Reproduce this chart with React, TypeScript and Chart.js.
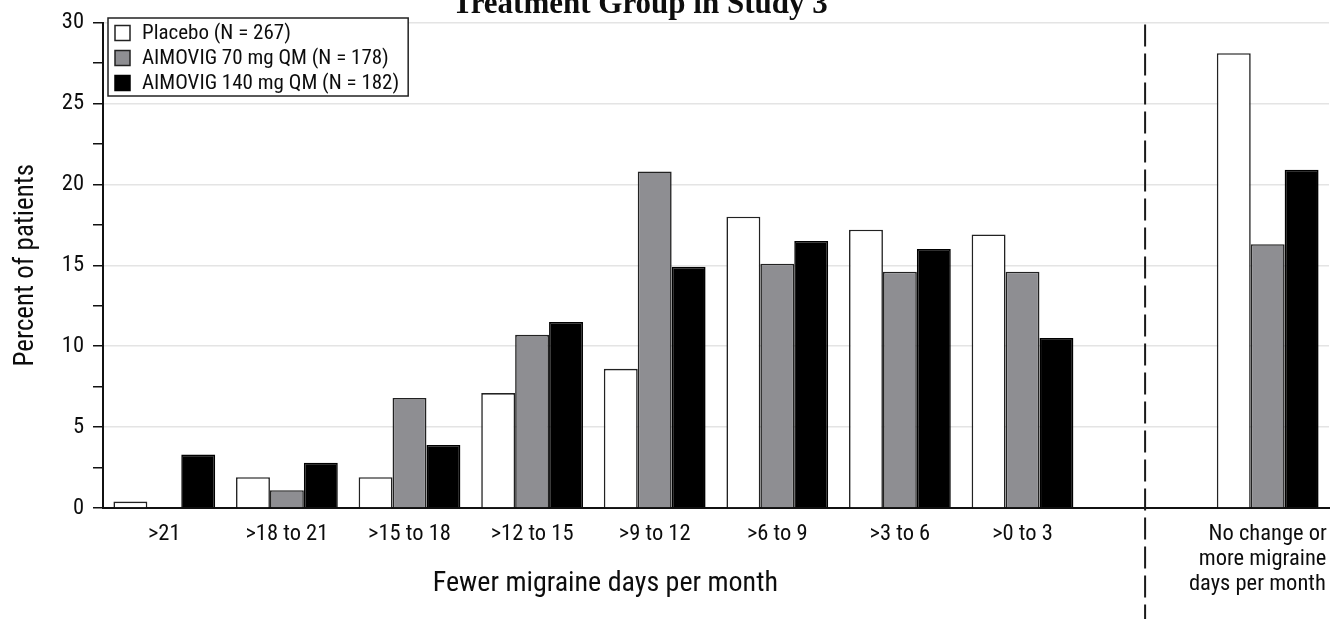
import { useEffect, useRef } from 'react';
import { Chart, registerables } from 'chart.js';

Chart.register(...registerables);

const chartTitle = 'Treatment Group in Study 3';
const xTitle = 'Fewer migraine days per month';
const yTitle = 'Percent of patients';

const categories: (string | string[])[] = [
  '>21',
  '>18 to 21',
  '>15 to 18',
  '>12 to 15',
  '>9 to 12',
  '>6 to 9',
  '>3 to 6',
  '>0 to 3',
  '',
  ['No change or', 'more migraine', 'days per month'],
];

const seriesLabels = ['Placebo (N = 267)', 'AIMOVIG 70 mg QM (N = 178)', 'AIMOVIG 140 mg QM (N = 182)'];
const placebo = [0.4, 1.9, 1.9, 7.1, 8.6, 18.0, 17.2, 16.9, null, 28.1];
const aimovig70 = [0, 1.1, 6.8, 10.7, 20.8, 15.1, 14.6, 14.6, null, 16.3];
const aimovig140 = [3.3, 2.8, 3.9, 11.5, 14.9, 16.5, 16.0, 10.5, null, 20.9];

const yMin = 0;
const yMax = 30;
const yStep = 2.5;
const yLabelEvery = 5;
const dividerIndex = 8;
const lastLeftIndex = 7;

const FONT = "'Roboto Condensed', 'Liberation Sans Narrow', 'DejaVu Sans Condensed', sans-serif";
const X_TICK_SIZE = 22.5;
const LEGEND_SIZE = 21;
const fills = ['#ffffff', '#8e8e92', '#000000'];
const borders = ['#222222', '#222222', '#000000'];
const TEXT = '#0d0d0d';

const measureCtx = typeof document !== 'undefined' ? document.createElement('canvas').getContext('2d') : null;

function rightAlignedLines(lines: string[], size: number, room: number): string[] {
  if (!measureCtx) return lines;
  measureCtx.font = `${size}px ${FONT}`;
  const widths = lines.map((l) => measureCtx.measureText(l).width);
  const maxW = Math.max(...widths);
  const sp = measureCtx.measureText(' ').width || 1;
  const r = Math.min(room, maxW / 2);
  return lines.map((l, i) => l + ' '.repeat(Math.max(0, Math.round((widths[i] - 2 * r) / sp))));
}

const decorPlugin = {
  id: 'decor',
  afterDatasetsDraw(chart: any) {
    const { ctx, chartArea, scales } = chart;
    const x = scales.x;
    ctx.save();
    // dashed divider
    const dx = x.getPixelForValue(dividerIndex);
    ctx.strokeStyle = '#1a1a1a';
    ctx.lineWidth = 2;
    ctx.setLineDash([22, 7]);
    ctx.beginPath();
    ctx.moveTo(dx, chartArea.top + 2);
    ctx.lineTo(dx, chart.height);
    ctx.stroke();
    ctx.setLineDash([]);

    // x title centred over the left group of categories
    const cx = (x.getPixelForValue(0) + x.getPixelForValue(lastLeftIndex)) / 2 + 12;
    ctx.fillStyle = TEXT;
    ctx.font = `28px ${FONT}`;
    ctx.textAlign = 'center';
    ctx.textBaseline = 'middle';
    ctx.fillText(xTitle, cx, 584);

    // chart title (clipped at the top of the picture)
    ctx.font = "bold 31px 'Liberation Serif', 'Times New Roman', serif";
    ctx.textBaseline = 'alphabetic';
    ctx.fillText(chartTitle, 640, 12.5);

    // legend box
    ctx.font = `${LEGEND_SIZE}px ${FONT}`;
    const textX = 142;
    let maxW = 0;
    chart.data.datasets.forEach((d: any) => {
      maxW = Math.max(maxW, ctx.measureText(d.label).width);
    });
    const boxL = 108;
    const boxT = 18;
    const boxR = textX + maxW + 9;
    const boxB = 96;
    ctx.fillStyle = '#ffffff';
    ctx.fillRect(boxL, boxT, boxR - boxL, boxB - boxT);
    ctx.strokeStyle = '#222';
    ctx.lineWidth = 1.5;
    ctx.strokeRect(boxL, boxT, boxR - boxL, boxB - boxT);
    chart.data.datasets.forEach((d: any, i: number) => {
      const cy = 33 + i * 25;
      ctx.fillStyle = d.backgroundColor;
      ctx.fillRect(115, cy - 7.5, 15, 15);
      ctx.strokeStyle = d.borderColor;
      ctx.lineWidth = 1.5;
      ctx.strokeRect(115, cy - 7.5, 15, 15);
      ctx.fillStyle = TEXT;
      ctx.textAlign = 'left';
      ctx.textBaseline = 'middle';
      ctx.fillText(d.label, textX, cy + 1);
    });
    ctx.restore();
  },
};

export default function App() {
  const ref = useRef<HTMLCanvasElement>(null);
  useEffect(() => {
    if (!ref.current) return;
    const series = [placebo, aimovig70, aimovig140];
    const chart = new Chart(ref.current, {
      type: 'bar',
      data: {
        labels: categories,
        datasets: series.map((vals, i) => ({
          label: seriesLabels[i],
          data: vals,
          backgroundColor: fills[i],
          borderColor: borders[i],
          borderWidth: 1.6,
          barPercentage: 1.0,
          categoryPercentage: 0.83,
        })),
      },
      options: {
        responsive: false,
        animation: false,
        devicePixelRatio: 1,
        layout: { autoPadding: false, padding: { top: 19, right: 2, left: 0, bottom: 0 } },
        plugins: {
          legend: { display: false },
          title: { display: false },
          tooltip: { enabled: false },
        },
        scales: {
          x: {
            afterFit: (s: any) => {
              s.height = 111;
              s.paddingLeft = 0;
              s.paddingRight = 0;
            },
            grid: { display: true, drawOnChartArea: false, drawTicks: false },
            border: { display: true, color: '#111', width: 2 },
            ticks: {
              padding: 14,
              color: TEXT,
              maxRotation: 0,
              autoSkip: false,
              font: { family: FONT, size: X_TICK_SIZE, lineHeight: 1.11 },
              callback: (_v: any, index: number) => {
                const lab = categories[index];
                return Array.isArray(lab) ? rightAlignedLines(lab, X_TICK_SIZE, 59) : lab;
              },
            },
          },
          y: {
            min: yMin,
            max: yMax,
            afterFit: (s: any) => {
              s.width = 103;
            },
            border: { display: true, color: '#111', width: 2 },
            grid: {
              color: (c: any) =>
                c.tick && c.tick.value > 0 && c.tick.value % yLabelEvery === 0 ? '#e4e4e4' : 'rgba(0,0,0,0)',
              lineWidth: 1.5,
              tickColor: '#111',
              tickLength: 10,
              tickWidth: 1.5,
            },
            ticks: {
              stepSize: yStep,
              padding: 9,
              color: TEXT,
              font: { family: FONT, size: 22.5 },
              callback: (v: any) => (Number(v) % yLabelEvery === 0 ? String(v) : ''),
            },
            title: {
              display: true,
              text: yTitle,
              color: TEXT,
              font: { family: FONT, size: 27 },
              padding: { top: 10, bottom: 0 },
            },
          },
        },
      },
      plugins: [decorPlugin],
    });
    return () => chart.destroy();
  }, []);
  return (
    <div style={{ position: 'fixed', left: 0, top: 0, width: 1331, height: 619, background: '#fff' }}>
      <canvas ref={ref} width={1331} height={619} style={{ display: 'block' }} />
    </div>
  );
}
